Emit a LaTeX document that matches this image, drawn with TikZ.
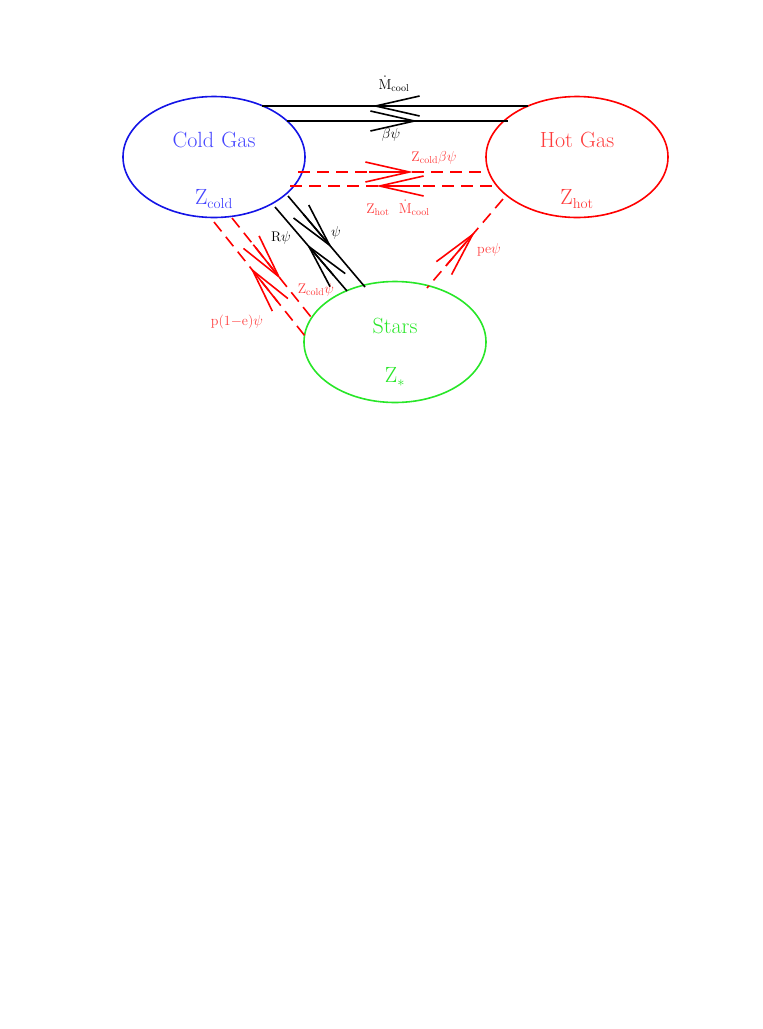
\documentclass[tikz,border=0pt]{standalone}
\usetikzlibrary{shapes.geometric,arrows.meta,calc}
\begin{document}
\begin{tikzpicture}[x=1pt,y=-1pt,
  ell/.style={ellipse,draw,line width=1.6pt,minimum width=182pt,minimum height=121pt,inner sep=0pt},
  lbl/.style={font=\fontsize{22}{24}\selectfont},
  sm/.style={font=\fontsize{14}{16}\selectfont,inner sep=1pt},
  flow/.style={line width=1.6pt},
  dflow/.style={line width=1.6pt,red,dash pattern=on 12pt off 7pt},
  vtip/.style={line width=1.6pt,-{Straight Barb[length=44pt,width=20pt,line width=1.6pt]}}]
\useasboundingbox (0,0) rectangle (763,1029);
\definecolor{cb}{RGB}{20,20,230}\definecolor{tb}{RGB}{70,70,255}
\definecolor{tr}{RGB}{255,60,60}\definecolor{cg}{RGB}{40,230,40}
\node[ell,draw=cb] (cold) at (214,157) {};
\node[ell,draw=red] (hot) at (577,157) {};
\node[ell,draw=cg] (stars) at (395,342) {};
\node[lbl,text=tb] (t1) at (214,140) {Cold\,\,Gas};
\node[lbl,text=tb] (t2) at (214,199) {Z$_{\rm cold}$};
\node[lbl,text=tr] (t3) at (577,140) {Hot\,\,Gas};
\node[lbl,text=tr] (t4) at (577,199) {Z$_{\rm hot}$};
\node[lbl,text=cg] (t5) at (395,326) {Stars};
\node[lbl,text=cg] (t6) at (395,377) {Z$_*$};
\coordinate (a1) at (262,106); \coordinate (a2) at (528,106);
\coordinate (b1) at (287,121); \coordinate (b2) at (508,121);
\coordinate (c1) at (298,172); \coordinate (c2) at (487,172);
\coordinate (d1) at (290,186); \coordinate (d2) at (497,186);
\coordinate (e1) at (275,207); \coordinate (e2) at (347,291);
\coordinate (f1) at (288,196); \coordinate (f2) at (365,287);
\coordinate (g1) at (214,222); \coordinate (g2) at (305,336);
\coordinate (h1) at (232,218); \coordinate (h2) at (311,317);
\coordinate (k1) at (503,199); \coordinate (k2) at (427,288);
\draw[flow] (a1) -- (a2); \draw[flow] (b1) -- (b2);
\draw[vtip] (418,106) -- (372,106);
\draw[vtip] (372,121) -- (418,121);
\draw[dflow] (c1) -- (c2); \draw[dflow] (d1) -- (d2);
\draw[vtip,red] (369,172) -- (413,172);
\draw[vtip,red] (420,186) -- (376,186);
\draw[flow] (e1) -- (e2); \draw[flow] (f1) -- (f2);
\draw[vtip] ($(e1)!0.81!(e2)$) -- ($(e1)!0.44!(e2)$);
\draw[vtip] ($(f1)!0.2!(f2)$) -- ($(f1)!0.57!(f2)$);
\draw[dflow] (g1) -- (g2); \draw[dflow] (h1) -- (h2);
\draw[vtip,red] ($(h1)!0.27!(h2)$) -- ($(h1)!0.62!(h2)$);
\draw[vtip,red] ($(g1)!0.70!(g2)$) -- ($(g1)!0.40!(g2)$);
\draw[dflow] (k1) -- (k2);
\draw[vtip,red] ($(k1)!0.75!(k2)$) -- ($(k1)!0.37!(k2)$);
\node[sm] (l1) at (394,84) {$\dot{\rm M}_{\rm cool}$};
\node[sm] (l2) at (391,135) {$\beta\psi$};
\node[sm,text=tr] (l3) at (434,158) {Z$_{\rm cold}\beta\psi$};
\node[sm,text=tr] (l4) at (398,208) {Z$_{\rm hot}$\ \ $\dot{\rm M}_{\rm cool}$};
\node[sm] (l5) at (281,238) {R$\psi$};
\node[sm] (l6) at (336,233) {$\psi$};
\node[sm,text=tr] (l7) at (316,290) {Z$_{\rm cold}\psi$};
\node[sm,text=tr] (l8) at (237,322) {p(1$-$e)$\psi$};
\node[sm,text=tr] (l9) at (489,250) {pe$\psi$};
\end{tikzpicture}
\end{document}
